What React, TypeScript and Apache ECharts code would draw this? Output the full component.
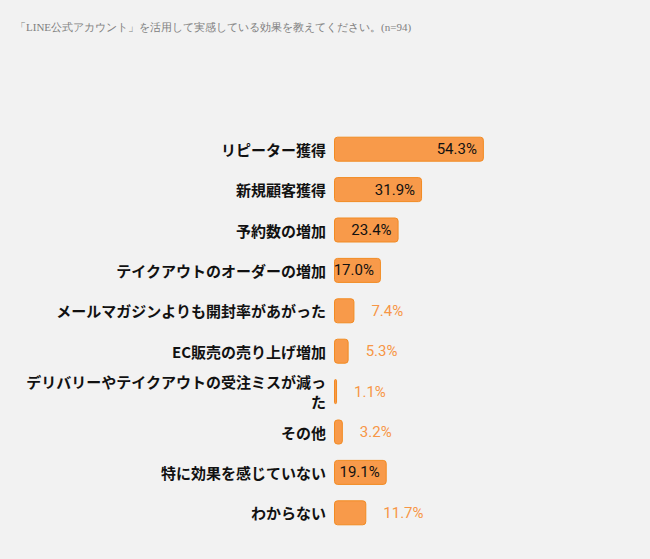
import React, { useEffect, useRef } from "react";
import * as echarts from "echarts";

const titleText = "「LINE公式アカウント」を活用して実感している効果を教えてください。(n=94)";
const categories = [
  "リピーター獲得",
  "新規顧客獲得",
  "予約数の増加",
  "テイクアウトのオーダーの増加",
  "メールマガジンよりも開封率があがった",
  "EC販売の売り上げ増加",
  "デリバリーやテイクアウトの受注ミスが減った",
  "その他",
  "特に効果を感じていない",
  "わからない",
];
const values = [54.3, 31.9, 23.4, 17.0, 7.4, 5.3, 1.1, 3.2, 19.1, 11.7];
const insideThreshold = 15;

export default function App() {
  const ref = useRef<HTMLDivElement>(null);
  useEffect(() => {
    document.body.style.margin = "0";
    document.body.style.background = "#f2f2f2";
    const chart = echarts.init(ref.current!, null, { renderer: "svg" });
    const data = values.map((v) => {
      const inside = v >= insideThreshold;
      return {
        value: v,
        label: inside
          ? { position: "insideRight", distance: 7, color: "#111" }
          : { position: "right", distance: 17, color: "#f79646" },
      };
    });
    chart.setOption({
      animation: false,
      backgroundColor: "#f2f2f2",
      title: {
        text: titleText,
        left: 10,
        top: 16,
        textStyle: {
          fontSize: 11,
          fontWeight: "normal",
          color: "#808080",
          fontFamily: "serif",
        },
      },
      grid: { left: 334, right: 40, top: 129, bottom: 26 },
      xAxis: {
        type: "value",
        min: 0,
        max: 100,
        show: false,
      },
      yAxis: {
        type: "category",
        inverse: true,
        data: categories,
        axisLine: { show: false },
        axisTick: { show: false },
        splitLine: { show: false },
        axisLabel: {
          margin: 8,
          fontSize: 15,
          fontWeight: "bold",
          color: "#111",
          fontFamily: "'Noto Sans CJK JP', sans-serif",
          width: 305,
          overflow: "break",
          lineHeight: 20,
        },
      },
      series: [
        {
          type: "bar",
          data,
          barWidth: 25,
          itemStyle: {
            color: "#f89a4a",
            borderColor: "#f28b22",
            borderWidth: 1,
            borderRadius: 3,
          },
          label: {
            show: true,
            fontSize: 15,
            fontFamily: "Roboto, sans-serif",
            formatter: (p: any) => p.value.toFixed(1) + "%",
          },
        },
      ],
    });
    return () => chart.dispose();
  }, []);
  return <div ref={ref} style={{ width: 650, height: 559 }} />;
}
